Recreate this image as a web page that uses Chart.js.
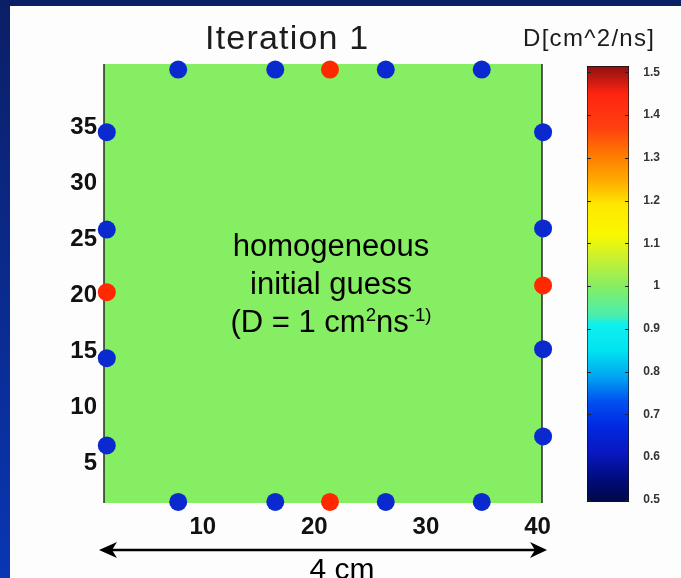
<!DOCTYPE html>
<html>
<head>
<meta charset="utf-8">
<script src="https://cdn.jsdelivr.net/npm/chart.js@4.4.1/dist/chart.umd.min.js"></script>
<style>
  body {
    margin: 0;
    width: 681px;
    height: 578px;
    overflow: hidden;
    position: relative;
    background: linear-gradient(#0b1f66, #0a36b4);
    font-family: "Liberation Sans", Arial, sans-serif;
  }
  #panel { position: absolute; left: 10px; top: 6px; width: 671px; height: 572px; background: #fdfdfd; }
  canvas, svg { position: absolute; }
  .txt { position: absolute; white-space: nowrap; color: #1c1c1c; }
  #title { left: 205px; top: 20px; font-size: 34px; line-height: 34px; letter-spacing: 1.2px; }
  #unit { left: 523px; top: 26px; font-size: 24px; line-height: 24px; letter-spacing: 1.3px; }
  #note { left: 0; width: 662px; top: 227px; text-align: center; font-size: 31px; line-height: 38px; color: #000; }
  #note sup { font-size: 0.6em; vertical-align: 0.6em; line-height: 0; }
  #scale { left: 0; width: 684px; top: 554px; text-align: center; font-size: 30px; line-height: 30px; color: #000; }
</style>
</head>
<body>
<div id="panel"></div>
<canvas id="map" width="681" height="578" style="left:0;top:0"></canvas>
<canvas id="bar" width="121" height="480" style="left:560px;top:40px"></canvas>
<svg width="681" height="578" style="left:0;top:0">
  <line x1="110" y1="550" x2="537" y2="550" stroke="#000" stroke-width="2.5"/>
  <path d="M99 550 L117 542 L112 550 L117 558 Z" fill="#000"/>
  <path d="M547 550 L530 542 L535 550 L530 558 Z" fill="#000"/>
</svg>
<div class="txt" id="title">Iteration 1</div>
<div class="txt" id="unit">D[cm^2/ns]</div>
<div class="txt" id="note">homogeneous<br>initial guess<br>(D = 1 cm<sup>2</sup>ns<sup>-1)</sup></div>
<div class="txt" id="scale">4 cm</div>
<script>
// grid extent (pixel cells 1..40) and axis ticks
const gridMin = 1.15, gridMax = 40.4;
const xTickValues = [10, 20, 30, 40];
const yTickValues = [5, 10, 15, 20, 25, 30, 35];

// detector positions (blue) round the border
const detectorX = [7.8, 16.5, 26.4, 35.0, 7.8, 16.5, 26.4, 35.0, 1.4, 1.4, 1.4, 1.4, 40.5, 40.5, 40.5, 40.5];
const detectorY = [39.9, 39.9, 39.9, 39.9, 1.25, 1.25, 1.25, 1.25, 34.3, 25.6, 14.1, 6.3, 34.3, 25.7, 14.9, 7.1];

// source positions (red)
const sourceX = [21.4, 21.4, 1.4, 40.5];
const sourceY = [39.9, 1.25, 20.0, 20.6];

// homogeneous initial guess
const initialD = 1;

// colorbar
const colorMin = 0.495, colorMax = 1.515;
const colorTickValues = [0.5, 0.6, 0.7, 0.8, 0.9, 1, 1.1, 1.2, 1.3, 1.4, 1.5];
const colorTickLabels = ["0.5", "0.6", "0.7", "0.8", "0.9", "1", "1.1", "1.2", "1.3", "1.4", "1.5"];

// colormap as seen in the picture (value, colour)
const jetStops = [
  [0.495, "#000848"], [0.55, "#000c7c"], [0.61, "#0a18c0"], [0.67, "#0028e0"],
  [0.73, "#0050f0"], [0.79, "#00a8f0"], [0.85, "#00e4f2"], [0.912, "#10f0ec"],
  [0.93, "#48eeb0"], [1.0, "#86ee62"], [1.06, "#c4f034"], [1.12, "#f8f800"],
  [1.19, "#ffe800"], [1.25, "#ffa800"], [1.31, "#ff7800"], [1.37, "#ff4010"],
  [1.45, "#ff2410"], [1.515, "#8e1010"],
];

function hexToRgb(h) {
  return [1, 3, 5].map((i) => parseInt(h.slice(i, i + 2), 16));
}

function jetColor(v) {
  for (let i = 1; i < jetStops.length; i++) {
    const [v0, c0] = jetStops[i - 1];
    const [v1, c1] = jetStops[i];
    if (v <= v1) {
      const t = (v - v0) / (v1 - v0);
      const a = hexToRgb(c0), b = hexToRgb(c1);
      return `rgb(${a.map((x, k) => Math.round(x + (b[k] - x) * t)).join(",")})`;
    }
  }
  return jetStops[jetStops.length - 1][1];
}

const tickFont = { family: "Liberation Sans", size: 24, weight: "bold" };

// fills the image area with the value of the current estimate, plus side lines
const plotFill = {
  id: "plotFill",
  beforeDatasetsDraw(chart) {
    const { ctx, chartArea: a } = chart;
    ctx.save();
    ctx.fillStyle = jetColor(initialD);
    ctx.fillRect(a.left, a.top, a.width, a.height);
    ctx.strokeStyle = "#2a2a2a";
    ctx.lineWidth = 1.5;
    ctx.beginPath();
    ctx.moveTo(a.left, a.top);
    ctx.lineTo(a.left, a.bottom);
    ctx.moveTo(a.right, a.top);
    ctx.lineTo(a.right, a.bottom);
    ctx.stroke();
    ctx.restore();
  },
};

new Chart(document.getElementById("map"), {
  type: "scatter",
  data: {
    datasets: [
      {
        label: "Detectors",
        data: detectorX.map((x, i) => ({ x, y: detectorY[i] })),
        backgroundColor: "#0a2ad0",
        pointRadius: 9,
        pointBorderWidth: 0,
        clip: false,
      },
      {
        label: "Sources",
        data: sourceX.map((x, i) => ({ x, y: sourceY[i] })),
        backgroundColor: "#ff2800",
        pointRadius: 9,
        pointBorderWidth: 0,
        clip: false,
      },
    ],
  },
  options: {
    responsive: false,
    animation: false,
    layout: { padding: { left: 0, top: 64, right: 139, bottom: 35 } },
    plugins: { legend: { display: false }, tooltip: { enabled: false } },
    scales: {
      x: {
        type: "linear",
        min: gridMin,
        max: gridMax,
        grid: { display: false, drawTicks: false },
        border: { display: false },
        afterBuildTicks: (s) => { s.ticks = xTickValues.map((v) => ({ value: v })); },
        afterFit: (s) => { s.height = 40; },
        ticks: { font: tickFont, color: "#111", padding: 10, maxRotation: 0, autoSkip: false },
      },
      y: {
        type: "linear",
        min: gridMin,
        max: gridMax,
        grid: { display: false, drawTicks: false },
        border: { display: false },
        afterBuildTicks: (s) => { s.ticks = yTickValues.map((v) => ({ value: v })); },
        afterFit: (s) => { s.width = 104; },
        ticks: { font: tickFont, color: "#111", padding: 7, labelOffset: 3, autoSkip: false },
      },
    },
  },
  plugins: [plotFill],
});

function colorbarGradient(chart) {
  const a = chart.chartArea;
  if (!a) return null;
  const ys = chart.scales.y;
  const g = chart.ctx.createLinearGradient(0, ys.getPixelForValue(colorMin), 0, ys.getPixelForValue(colorMax));
  jetStops.forEach(([v, c]) => g.addColorStop((v - colorMin) / (colorMax - colorMin), c));
  return g;
}

// short inner tick marks on both sides of the colorbar
const colorTicks = {
  id: "colorTicks",
  afterDatasetsDraw(chart) {
    const { ctx, chartArea: a } = chart;
    const ys = chart.scales.y;
    ctx.save();
    ctx.strokeStyle = "#222";
    ctx.lineWidth = 1;
    ctx.beginPath();
    colorTickValues.forEach((v) => {
      const y = Math.round(ys.getPixelForValue(v)) + 0.5;
      ctx.moveTo(a.left, y);
      ctx.lineTo(a.left + 4, y);
      ctx.moveTo(a.right - 4, y);
      ctx.lineTo(a.right, y);
    });
    ctx.stroke();
    ctx.restore();
  },
};

new Chart(document.getElementById("bar"), {
  type: "bar",
  data: {
    labels: ["D"],
    datasets: [
      {
        data: [[colorMin, colorMax]],
        backgroundColor: (c) => colorbarGradient(c.chart),
        borderColor: "#111",
        borderWidth: 1,
        borderSkipped: false,
        barPercentage: 1,
        categoryPercentage: 1,
      },
    ],
  },
  options: {
    responsive: false,
    animation: false,
    layout: { padding: { left: 27, top: 26, right: 21, bottom: 18 } },
    plugins: { legend: { display: false }, tooltip: { enabled: false } },
    scales: {
      x: { display: false },
      y: {
        position: "right",
        min: colorMin,
        max: colorMax,
        grid: { display: false, drawTicks: false },
        border: { display: false },
        afterBuildTicks: (s) => { s.ticks = colorTickValues.map((v) => ({ value: v })); },
        afterFit: (s) => { s.width = 31; },
        ticks: {
          callback: (v) => colorTickLabels[colorTickValues.indexOf(v)],
          crossAlign: "far",
          padding: 8,
          font: { family: "Liberation Sans", size: 12, weight: "bold" },
          color: "#333",
        },
      },
    },
  },
  plugins: [colorTicks],
});
</script>
</body>
</html>
